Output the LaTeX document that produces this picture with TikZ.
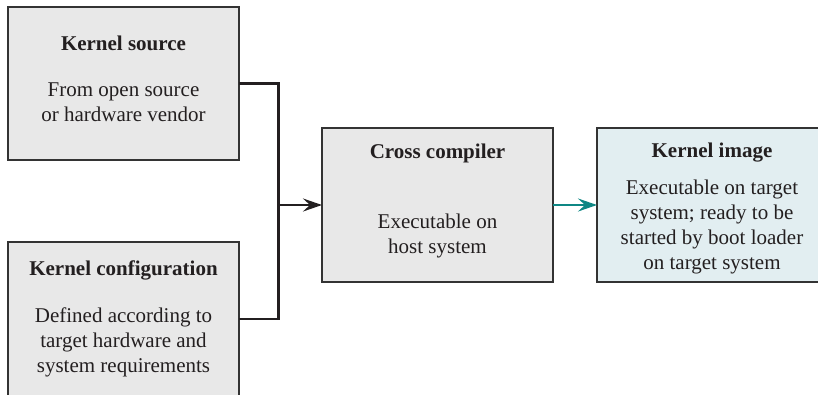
\documentclass[tikz,border=0pt]{standalone}
\usepackage{fontspec}
\setmainfont{Liberation Serif}
\usetikzlibrary{arrows.meta}
\definecolor{boxgray}{HTML}{E8E8E8}
\definecolor{boxblue}{HTML}{E2EEF1}
\definecolor{edge}{HTML}{333333}
\definecolor{ink}{HTML}{231F20}
\definecolor{teal2}{HTML}{0E8784}
\tikzset{
  boxnode/.style={draw=edge, line width=1.3pt, inner sep=0pt, outer sep=0pt},
  txt/.style={text=ink, align=center, inner sep=0pt, font=\fontsize{21}{25}\selectfont},
  ttl/.style={txt, font=\fontsize{21}{25}\selectfont\bfseries},
  conn/.style={draw=ink, line width=2.4pt},
  arr/.style={-{Stealth[length=19pt,width=13pt,inset=7pt]}},
}
\begin{document}
\begin{tikzpicture}[x=1pt,y=-1pt]
\useasboundingbox (0,0) rectangle (818,394);
\clip (0,0) rectangle (818,394);
\node[boxnode, fill=boxgray, minimum width=231pt, minimum height=153pt] (b1) at (123.5,83.5) {};
\node[boxnode, fill=boxgray, minimum width=231pt, minimum height=154pt] (b2) at (123.5,319) {};
\node[boxnode, fill=boxgray, minimum width=231pt, minimum height=154pt] (b3) at (437.5,205) {};
\node[boxnode, fill=boxblue, minimum width=230pt, minimum height=154pt] (b4) at (712,205) {};
\node[ttl] (t1) at (123.5,43) {Kernel source};
\node[txt] (d1) at (123.5,102.5) {From open source\\or hardware vendor};
\node[ttl] (t2) at (123.5,270) {Kernel configuration};
\node[txt] (d2) at (123.5,342.5) {Defined according to\\target hardware and\\system requirements};
\node[ttl] (t3) at (437.5,153) {Cross compiler};
\node[txt] (d3) at (437.5,235.5) {Executable on\\host system};
\node[ttl] (t4) at (712,153) {Kernel image};
\node[txt] (d4) at (712,227) {Executable on target\\system; ready to be\\started by boot loader\\on target system};
\coordinate (j) at (278.5,205);
\draw[conn] (b1.east) -| (j);
\draw[conn] (b2.east) -| (j);
\draw[conn, arr] (j) -- (b3.west);
\draw[draw=teal2, line width=2.4pt, arr, color=teal2] (b3.east) -- (b4.west);
\end{tikzpicture}
\end{document}
